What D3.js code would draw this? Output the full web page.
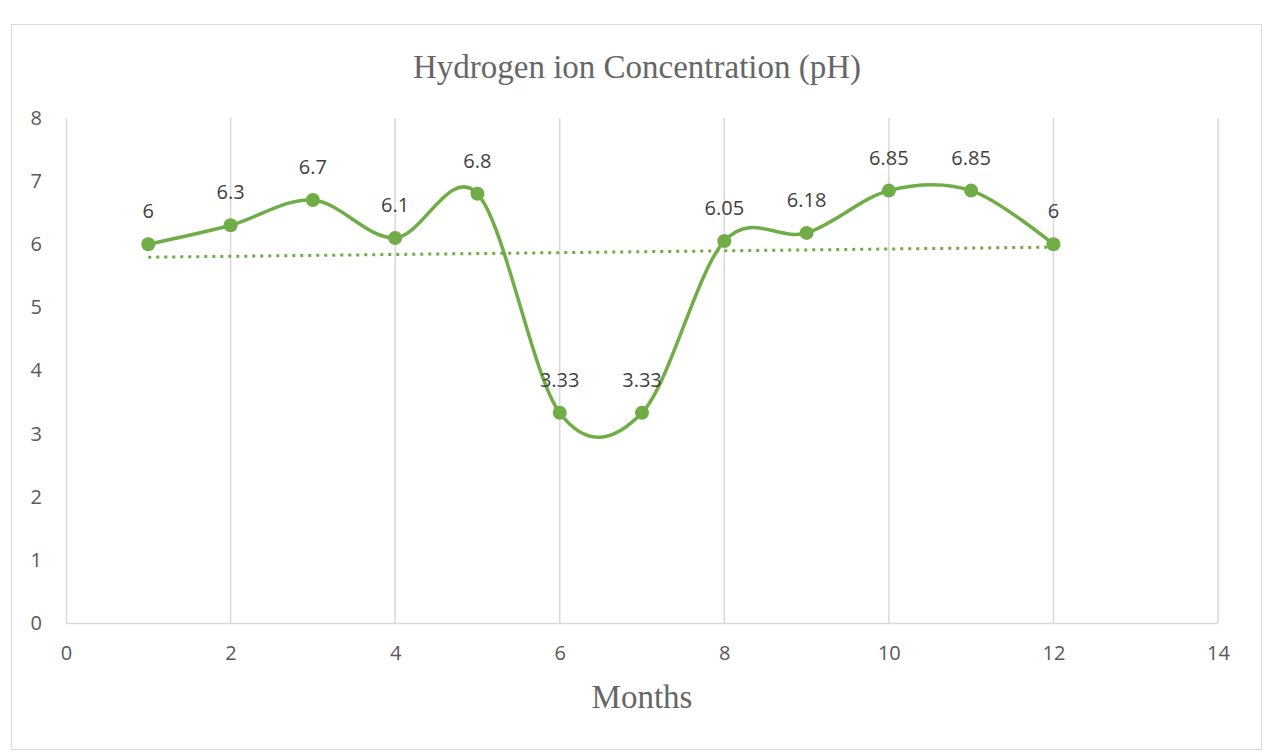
<!DOCTYPE html>
<html>
<head>
<meta charset="UTF-8">
<title>Hydrogen ion Concentration (pH)</title>
<script src="https://cdn.jsdelivr.net/npm/d3@7"></script>
<style>
body { margin: 0; background: #fff; }
</style>
</head>
<body>
<script>
// data
var months = [1, 2, 3, 4, 5, 6, 7, 8, 9, 10, 11, 12];
var phValues = [6, 6.3, 6.7, 6.1, 6.8, 3.33, 3.33, 6.05, 6.18, 6.85, 6.85, 6];
var xTicks = [0, 2, 4, 6, 8, 10, 12, 14];
var yTicks = [0, 1, 2, 3, 4, 5, 6, 7, 8];

var W = 1272, H = 756;
var margin = { top: 118, right: 54, bottom: 133, left: 66 };
var green = "#70AD47";

var svg = d3.select("body").append("svg")
  .attr("width", W).attr("height", H);

// chart border
svg.append("rect")
  .attr("x", 11.5).attr("y", 24.5)
  .attr("width", 1250).attr("height", 725)
  .attr("fill", "#fff").attr("stroke", "#d9d9d9");

var x = d3.scaleLinear().domain([0, 14]).range([margin.left, W - margin.right]);
var y = d3.scaleLinear().domain([0, 8]).range([H - margin.bottom, margin.top]);

// vertical gridlines
svg.append("g")
  .selectAll("line")
  .data(xTicks.slice(1))
  .enter().append("line")
  .attr("x1", function(d) { return x(d); })
  .attr("x2", function(d) { return x(d); })
  .attr("y1", y(8)).attr("y2", y(0))
  .attr("stroke", "#d9d9d9").attr("stroke-width", 1.5);

// axes
var xAxis = svg.append("g")
  .attr("transform", "translate(0," + y(0) + ")")
  .call(d3.axisBottom(x).tickValues(xTicks).tickSize(0).tickPadding(23));
var yAxis = svg.append("g")
  .attr("transform", "translate(" + x(0) + ",0)")
  .call(d3.axisLeft(y).tickValues(yTicks).tickSize(0).tickPadding(24));

[xAxis, yAxis].forEach(function(a) {
  a.select(".domain").attr("stroke", "#d9d9d9").attr("stroke-width", 1.5);
  a.selectAll("text")
    .attr("fill", "#595959")
    .style("font-family", "'Open Sans', 'Liberation Sans', sans-serif")
    .style("font-size", "20px");
});

// trendline (linear least squares)
var mx = d3.mean(months), my = d3.mean(phValues);
var sxy = d3.sum(months, function(m, i) { return (m - mx) * (phValues[i] - my); });
var sxx = d3.sum(months, function(m) { return (m - mx) * (m - mx); });
var slope = sxy / sxx, icpt = my - slope * mx;
var trendEnds = [months[0], months[months.length - 1]];
svg.append("line")
  .attr("x1", x(trendEnds[0])).attr("y1", y(icpt + slope * trendEnds[0]))
  .attr("x2", x(trendEnds[1])).attr("y2", y(icpt + slope * trendEnds[1]))
  .attr("stroke", green).attr("stroke-width", 3)
  .attr("stroke-dasharray", "3,5");

// smooth line
var pts = months.map(function(m, i) { return { m: m, v: phValues[i] }; });
var line = d3.line()
  .x(function(d) { return x(d.m); })
  .y(function(d) { return y(d.v); })
  .curve(d3.curveCardinal.tension(0));

svg.append("path")
  .datum(pts)
  .attr("d", line)
  .attr("fill", "none")
  .attr("stroke", green)
  .attr("stroke-width", 3.5);

svg.selectAll("circle.pt")
  .data(pts)
  .enter().append("circle")
  .attr("class", "pt")
  .attr("cx", line.x())
  .attr("cy", line.y())
  .attr("r", 7)
  .attr("fill", green);

// data labels
svg.selectAll("text.lbl")
  .data(pts)
  .enter().append("text")
  .attr("class", "lbl")
  .attr("x", function(d) { return x(d.m); })
  .attr("y", function(d) { return y(d.v) - 26; })
  .attr("text-anchor", "middle")
  .attr("fill", "#404040")
  .style("font-family", "'Open Sans', 'Liberation Sans', sans-serif")
  .style("font-size", "20px")
  .text(function(d) { return d.v; });

// titles
svg.append("text")
  .attr("x", 637).attr("y", 78)
  .attr("text-anchor", "middle")
  .attr("fill", "#666666")
  .style("font-family", "'Liberation Serif', 'DejaVu Serif', serif")
  .style("font-size", "33px")
  .text("Hydrogen ion Concentration (pH)");

svg.append("text")
  .attr("x", 642).attr("y", 708)
  .attr("text-anchor", "middle")
  .attr("fill", "#666666")
  .style("font-family", "'Liberation Serif', 'DejaVu Serif', serif")
  .style("font-size", "33px")
  .text("Months");
</script>
</body>
</html>
